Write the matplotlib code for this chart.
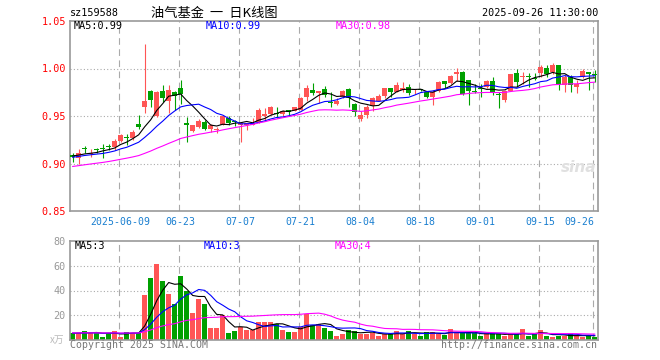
import numpy as np
import matplotlib
matplotlib.use('Agg')
import matplotlib.pyplot as plt

# ---- data ----
# closes before the first visible day, only needed for the moving averages
pre_close = [0.885, 0.888, 0.886, 0.889, 0.891, 0.888, 0.890, 0.893, 0.892, 0.895,
             0.894, 0.896, 0.893, 0.891, 0.894, 0.896, 0.895, 0.893, 0.895, 0.897,
             0.902, 0.905, 0.904, 0.907, 0.908, 0.906, 0.909, 0.908, 0.910]
pre_vol = [6, 5, 7, 6, 5, 6, 7, 6, 5, 6, 7, 6, 6, 5, 7, 6, 6, 7, 5, 6,
           6, 7, 5, 6, 6, 5, 6, 6, 5]

opens = [0.909, 0.9055, 0.916, 0.910, 0.9145, 0.9165, 0.918, 0.917, 0.9237, 0.928,
         0.9265, 0.9415, 0.960, 0.976, 0.950, 0.976, 0.9657, 0.975, 0.9793, 0.9425,
         0.934, 0.938, 0.944, 0.9368, 0.935, 0.941, 0.948, 0.9445, 0.9403, 0.941,
         0.941, 0.9434, 0.9497, 0.952, 0.953, 0.952, 0.9553, 0.9556, 0.9566, 0.9705,
         0.9773, 0.9745, 0.978, 0.9642, 0.9629, 0.9695, 0.9785, 0.9629, 0.9473, 0.9507,
         0.9601, 0.966, 0.9712, 0.9792, 0.975, 0.9771, 0.9809, 0.9774, 0.9778, 0.9757,
         0.9695, 0.9764, 0.9868, 0.9844, 0.9938, 0.9965, 0.9877, 0.9757, 0.9793, 0.9807,
         0.9866, 0.9722, 0.9667, 0.9765, 0.9954, 0.9915, 0.9914, 0.9897, 0.9953, 1.0007,
         0.9964, 1.0035, 0.9825, 0.9912, 0.9807, 0.9912, 0.9958, 0.9932]
highs = [0.9108, 0.915, 0.9185, 0.915, 0.916, 0.920, 0.920, 0.9255, 0.931, 0.931,
         0.9355, 0.951, 1.0255, 0.977, 0.9763, 0.9825, 0.9825, 0.9767, 0.9877, 0.9485,
         0.9405, 0.947, 0.946, 0.9417, 0.9385, 0.9505, 0.9497, 0.946, 0.943, 0.943,
         0.948, 0.958, 0.9584, 0.9603, 0.959, 0.956, 0.9566, 0.960, 0.970, 0.9826,
         0.985, 0.9768, 0.9815, 0.9748, 0.9688, 0.977, 0.9792, 0.9636, 0.9549, 0.9618,
         0.9695, 0.9729, 0.980, 0.9792, 0.9854, 0.9861, 0.9833, 0.9785, 0.9785, 0.9764,
         0.9774, 0.9868, 0.9868, 0.9931, 1.0004, 0.9972, 0.9877, 0.9842, 0.9842, 0.9877,
         0.9912, 0.9754, 0.9772, 0.9945, 0.9992, 0.9964, 0.9954, 0.9954, 1.0035, 1.0035,
         1.0053, 1.0035, 0.993, 0.993, 0.9877, 0.9999, 0.9958, 0.9982]
lows = [0.902, 0.900, 0.9115, 0.907, 0.9115, 0.9055, 0.914, 0.914, 0.923, 0.919,
        0.925, 0.936, 0.953, 0.960, 0.949, 0.965, 0.9535, 0.956, 0.963, 0.923,
        0.9335, 0.9375, 0.9348, 0.9334, 0.932, 0.9405, 0.9403, 0.9393, 0.923, 0.935,
        0.9405, 0.943, 0.9445, 0.9514, 0.948, 0.9505, 0.9504, 0.955, 0.956, 0.9653,
        0.972, 0.9633, 0.9695, 0.9598, 0.9618, 0.969, 0.9591, 0.9497, 0.9445, 0.948,
        0.9556, 0.9653, 0.9688, 0.9705, 0.975, 0.9757, 0.9716, 0.9729, 0.9765, 0.9688,
        0.9618, 0.9757, 0.9792, 0.9834, 0.9868, 0.9716, 0.9615, 0.9737, 0.9702, 0.980,
        0.972, 0.958, 0.965, 0.976, 0.9807, 0.9842, 0.9807, 0.9877, 0.9912, 0.9912,
        0.9947, 0.9772, 0.9754, 0.9754, 0.9745, 0.9895, 0.9772, 0.9859]
closes = [0.9066, 0.9108, 0.915, 0.9115, 0.914, 0.915, 0.9175, 0.9237, 0.930, 0.9265,
          0.933, 0.938, 0.9657, 0.9668, 0.9755, 0.969, 0.9773, 0.971, 0.973, 0.941,
          0.9404, 0.9446, 0.936, 0.9403, 0.936, 0.9497, 0.9427, 0.9435, 0.9427, 0.9427,
          0.9427, 0.9566, 0.952, 0.960, 0.952, 0.955, 0.9547, 0.9594, 0.9694, 0.9792,
          0.9745, 0.9762, 0.972, 0.9638, 0.9663, 0.9768, 0.9688, 0.9542, 0.9514, 0.960,
          0.9688, 0.9715, 0.9792, 0.9757, 0.9826, 0.9799, 0.974, 0.9775, 0.9772, 0.9705,
          0.9757, 0.9861, 0.9837, 0.9924, 0.9958, 0.9729, 0.9765, 0.9752, 0.9788, 0.9866,
          0.9737, 0.9718, 0.9765, 0.994, 0.9859, 0.9919, 0.991, 0.9893, 1.0011, 0.9947,
          1.0035, 0.9825, 0.9912, 0.9825, 0.9842, 0.9971, 0.994, 0.993]
volumes = [6, 6, 7.5, 6, 6, 3, 6, 7.5, 3, 6.5, 6, 6, 36, 50, 61, 48, 37, 29, 52, 40,
           22, 33, 29, 10, 10, 20, 6, 7.5, 11, 8, 8.5, 15, 15, 15, 13, 8, 7, 7, 11, 21,
           12, 13, 10, 7.5, 3.5, 5.4, 8.3, 7.5, 5.4, 5.4, 6.2, 3.5, 4.8, 4.8, 7.5, 5.4,
           7.5, 5.4, 3.5, 6.7, 6.7, 5.4, 4.3, 9.1, 6.7, 5.6, 5.6, 5.6, 3.5, 5.6, 5.6,
           5.6, 3.5, 4.8, 4.8, 9.1, 3.5, 4.8, 8.3, 3.5, 2.7, 3.5, 3.5, 5.6, 3.5, 2.7,
           3.5, 3.0]

tick_pos = [8, 18, 28, 38, 48, 58, 68, 78, 87]
tick_labels = ['2025-06-09', '06-23', '07-07', '07-21', '08-04', '08-18',
               '09-01', '09-15', '09-26']

RED = '#ff5555'
GREEN = '#00a000'
GRID = '#aaaaaa'
MONO = 'DejaVu Sans Mono'


def ma(pre, vals, n):
    s = np.convolve(np.array(pre + vals, dtype=float), np.ones(n) / n, mode='full')
    return s[len(pre):len(pre) + len(vals)]


n = len(closes)
x = np.arange(n)
o = np.array(opens); c = np.array(closes)
h = np.array(highs); l = np.array(lows)
up = c >= o
cols = np.where(up, RED, GREEN)

W, H = 660, 360
fig = plt.figure(figsize=(6.6, 3.6), dpi=100)
ax = fig.add_axes([70 / W, 1 - 211 / H, 528 / W, 190 / H])
axv = fig.add_axes([70 / W, 1 - 340.3 / H, 528 / W, 99.6 / H])

for a in (ax, axv):
    a.set_xlim(-0.45, n - 0.45)
    for s in a.spines.values():
        s.set_color('#999999')
        s.set_linewidth(1.2)
    for p in tick_pos:
        a.axvline(p - 0.3, color=GRID, lw=0.8, ls=(0, (6, 4)), zorder=0)

# candles
body_lo = np.minimum(o, c)
body_h = np.maximum(np.abs(c - o), 0.0011)
ax.vlines(x, l, h, colors=cols, lw=0.8, zorder=2)
ax.bar(x, body_h, bottom=body_lo, width=0.83, color=cols, zorder=3)

ax.plot(x, ma(pre_close, closes, 5), color='black', lw=0.8, zorder=4)
ax.plot(x, ma(pre_close, closes, 10), color='blue', lw=0.8, zorder=4)
ax.plot(x, ma(pre_close, closes, 30), color='#ff00ff', lw=0.8, zorder=4)

ax.set_ylim(0.85, 1.05)
ax.set_yticks([0.85, 0.90, 0.95, 1.00, 1.05])
ax.set_yticklabels(['0.85', '0.90', '0.95', '1.00', '1.05'], family=MONO,
                   fontsize=7.3, color='#ff0000')
for yv in (0.90, 0.95, 1.00):
    ax.axhline(yv, color=GRID, lw=0.8, ls=(0, (1, 2)), zorder=0)
ax.set_xticks(tick_pos)
ax.set_xticklabels(tick_labels, family=MONO, fontsize=7.1, color='#1a7fd0')
ax.get_xticklabels()[-1].set_ha('right')
ax.tick_params(length=0, pad=3)
ax.tick_params(axis='x', pad=4.5)

# volume
axv.bar(x, volumes, width=0.83, color=cols, zorder=2)
axv.plot(x, ma(pre_vol, volumes, 5), color='black', lw=0.8, zorder=3)
axv.plot(x, ma(pre_vol, volumes, 10), color='blue', lw=0.8, zorder=3)
axv.plot(x, ma(pre_vol, volumes, 30), color='#ff00ff', lw=0.8, zorder=3)
axv.set_ylim(0, 80)
axv.set_yticks([20, 40, 60, 80])
axv.set_yticklabels(['20', '40', '60', '80'], family=MONO, fontsize=7.3,
                    color='#999999')
for yv in (20, 40, 60):
    axv.axhline(yv, color=GRID, lw=0.8, ls=(0, (1, 2)), zorder=0)
axv.set_xticks([])
axv.tick_params(length=0, pad=3)


def ftext(px, py, s, **kw):
    kw.setdefault('family', MONO)
    kw.setdefault('fontsize', 7.3)
    kw.setdefault('va', 'center')
    fig.text(px / W, 1 - py / H, s, **kw)


ftext(70, 13, 'sz159588')
ftext(214, 13, '油气基金  一  日K线图', ha='center', fontsize=9.5,
      family=['Noto Sans CJK SC', 'DejaVu Sans'])
ftext(598, 13, '2025-09-26 11:30:00', ha='right')
ftext(74, 26, 'MA5:0.99', color='black')
ftext(206, 26, 'MA10:0.99', color='blue')
ftext(336, 26, 'MA30:0.98', color='#ff00ff')
ftext(75, 246, 'MA5:3', color='black')
ftext(204, 246, 'MA10:3', color='blue')
ftext(335, 246, 'MA30:4', color='#ff00ff')
ftext(64, 340, 'x万', ha='right', color='#bbbbbb', fontsize=7,
      family=['Noto Sans CJK SC', 'DejaVu Sans'])
ftext(70, 345, 'Copyright 2025 SINA.COM', color='#777777', fontsize=7.1)
ftext(597, 345, 'http://finance.sina.com.cn', ha='right', color='#777777',
      fontsize=7.1)
ftext(596, 168, 'sina', ha='right', color='#e0e0e0', fontsize=11,
      style='italic', weight='bold', family='DejaVu Sans')

fig.savefig('out.png', dpi=100)
